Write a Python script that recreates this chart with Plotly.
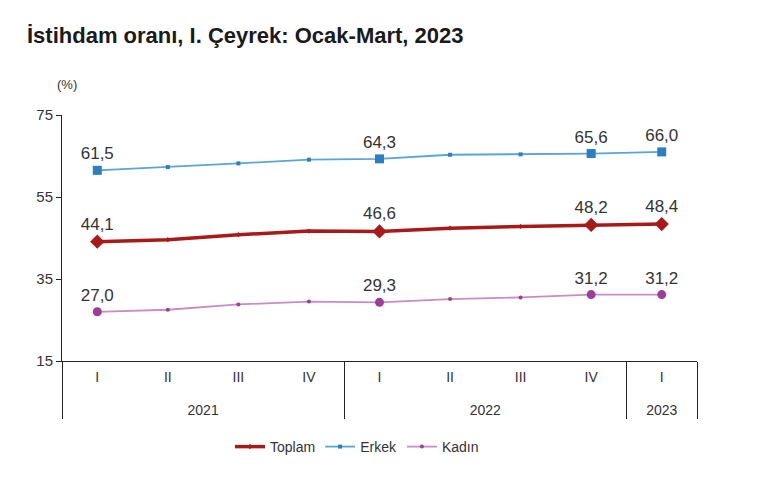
import plotly.graph_objects as go

years = ["2021", "2021", "2021", "2021", "2022", "2022", "2022", "2022", "2023"]
quarters = ["I", "II", "III", "IV", "I", "II", "III", "IV", "I"]

toplam = [44.1, 44.6, 45.8, 46.7, 46.6, 47.4, 47.8, 48.2, 48.4]
erkek = [61.5, 62.3, 63.2, 64.1, 64.3, 65.3, 65.4, 65.6, 66.0]
kadin = [27.0, 27.5, 28.8, 29.5, 29.3, 30.1, 30.5, 31.2, 31.2]

labeled = [0, 4, 7, 8]  # points carrying a value label

y_ticks = [15, 35, 55, 75]

series = [
    ("Toplam", toplam, "#A81A1A", "#A81A1A", "diamond", 3.5, 11),
    ("Erkek", erkek, "#5AA5D6", "#2B7FC1", "square", 1.8, 9),
    ("Kadın", kadin, "#C98BC9", "#9A3E9A", "circle", 1.8, 9),
]

FONT = "Liberation Sans, Arial, sans-serif"

# second-level (year) labels drawn one line lower than the quarter row
year_labels = ["<br>" + y for y in years]

fig = go.Figure()
for name, vals, lcol, mcol, sym, lw, msz in series:
    fig.add_trace(go.Scatter(
        x=[year_labels, quarters], y=vals, name=name, mode="lines+markers",
        line=dict(color=lcol, width=lw),
        marker=dict(symbol=sym, size=4, color=mcol),
        hoverinfo="skip",
    ))
    fig.add_trace(go.Scatter(
        x=[[year_labels[i] for i in labeled], [quarters[i] for i in labeled]],
        y=[vals[i] for i in labeled],
        mode="markers+text", showlegend=False,
        marker=dict(symbol=sym, size=msz, color=mcol),
        text=[f"{vals[i]:.1f}".replace(".", ",") for i in labeled],
        textposition="top center",
        textfont=dict(family=FONT, size=17, color="#333333"),
        hoverinfo="skip",
    ))

# The page body adds an 8px offset, so pixel targets are shifted by -8.
OFF = 8
L, R, T, B = 62 - OFF, 697 - OFF, 115 - OFF, 361 - OFF
W, H = 770, 488

fig.update_layout(
    width=W, height=H,
    margin=dict(l=L, r=W - R, t=T, b=H - B),
    paper_bgcolor="white", plot_bgcolor="white",
    font=dict(family=FONT, color="#333333"),
    title=dict(
        text="<b>İstihdam oranı, I. Çeyrek: Ocak-Mart, 2023</b>",
        xref="container", yref="container",
        x=(27 - OFF) / W, xanchor="left", y=1 - (35 - OFF) / H, yanchor="middle",
        font=dict(size=22, color="#1a1a1a"),
    ),
    showlegend=True,
    legend=dict(
        orientation="h", x=(357 - 62) / 635, xanchor="center", y=(361 - 447) / 246, yanchor="middle",
        font=dict(size=14, color="#333333"), itemwidth=30,
    ),
    annotations=[dict(
        text="(%)", xref="paper", yref="paper", x=(67 - 62) / 635, y=(361 - 85) / 246,
        xanchor="center", yanchor="middle", showarrow=False,
        font=dict(size=13, color="#333333"),
    )],
)

fig.update_xaxes(
    type="multicategory", showgrid=False, zeroline=False,
    showline=True, linecolor="#222222", linewidth=1,
    showdividers=True, dividercolor="#222222", dividerwidth=1,
    ticks="", ticklabelstandoff=3,
    tickfont=dict(size=14, color="#333333"),
    range=[-0.5, 8.5],
)
fig.update_yaxes(
    range=[15, 75], tickvals=y_ticks, showgrid=False, zeroline=False,
    showline=True, linecolor="#222222", linewidth=1,
    ticks="outside", ticklen=5, tickcolor="#222222",
    tickfont=dict(size=15, color="#333333"),
)

fig.write_html("out.html")
